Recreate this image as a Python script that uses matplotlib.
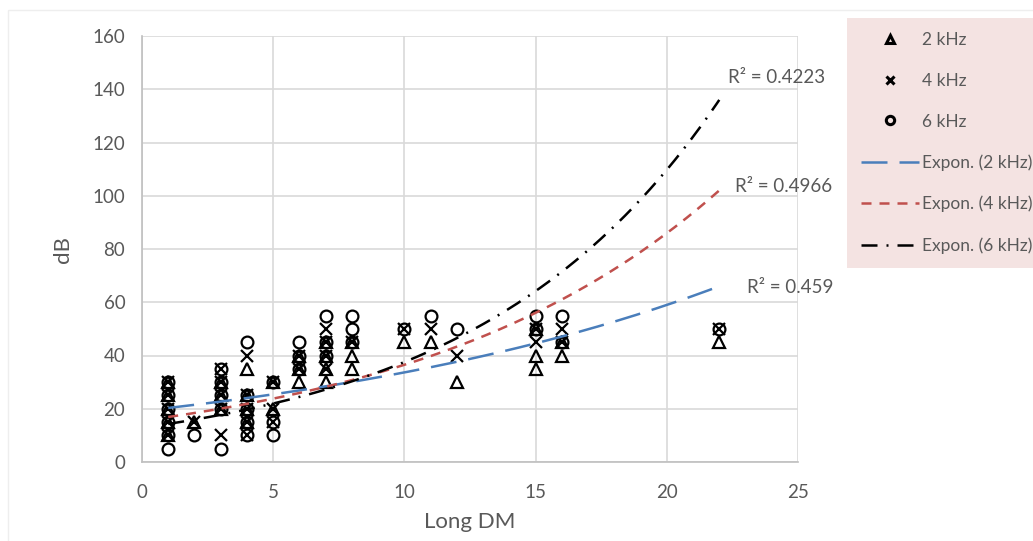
import numpy as np
import matplotlib.pyplot as plt
from matplotlib.lines import Line2D
from matplotlib.patches import Rectangle

# Scatter data (Long DM vs dB)
x_2k = [1, 1, 1, 1, 1, 2, 3, 3, 3, 4, 4, 4, 4, 5, 5, 6, 6, 6, 7, 7, 7, 7,
        8, 8, 8, 10, 11, 12, 15, 15, 15, 16, 16, 22]
y_2k = [10, 15, 20, 25, 30, 15, 20, 25, 30, 35, 25, 20, 15, 30, 20, 30, 35, 40, 30, 35, 40, 45,
        35, 40, 45, 45, 45, 30, 35, 40, 50, 40, 45, 45]

x_4k = [1, 1, 1, 1, 1, 2, 3, 3, 3, 3, 3, 4, 4, 4, 4, 4, 5, 5, 5, 6, 6, 7, 7, 7, 7,
        8, 10, 11, 12, 15, 15, 16, 16, 22]
y_4k = [10, 15, 20, 25, 30, 15, 10, 20, 25, 30, 35, 40, 25, 20, 15, 10, 30, 20, 15, 35, 40, 35, 40, 45, 50,
        45, 50, 50, 40, 45, 50, 45, 50, 50]

x_6k = [1, 1, 1, 1, 1, 1, 2, 3, 3, 3, 3, 3, 4, 4, 4, 4, 4, 5, 5, 5, 6, 6, 6, 7, 7, 7,
        8, 8, 8, 10, 11, 12, 15, 15, 16, 16, 22]
y_6k = [5, 10, 15, 20, 25, 30, 10, 5, 20, 25, 30, 35, 45, 25, 20, 15, 10, 30, 15, 10, 35, 40, 45, 40, 45, 55,
        45, 50, 55, 50, 55, 50, 50, 55, 45, 55, 50]

# Exponential trendlines: value at x=1 and x=22
trend_names = ['Expon. (2 kHz)', 'Expon. (4 kHz)', 'Expon. (6 kHz)']
trend_start = [20.3, 16.9, 14.3]
trend_end = [66, 102, 136]
r2_labels = ['R² = 0.459', 'R² = 0.4966', 'R² = 0.4223']
r2_pos = [(23.05, 65.5), (22.6, 103.5), (22.35, 144.5)]

plt.rcParams['font.family'] = ['Lato', 'DejaVu Sans']
grey = '#595959'

fig = plt.figure(figsize=(10.33, 5.41), dpi=100)
# faint chart-area border like the Excel export
fig.patches.append(Rectangle((8 / 1033, -0.01), 1.0, 1 - 10 / 541 + 0.01, transform=fig.transFigure,
                             fill=False, edgecolor='#eeeeee', linewidth=1))
ax = fig.add_axes([142 / 1033, 1 - 462 / 541, (798 - 142) / 1033, (462 - 36) / 541])

mk = dict(linestyle='none', markerfacecolor='none', markeredgecolor='black',
          markersize=8.5, markeredgewidth=1.6, zorder=3)
ax.plot(x_2k, y_2k, marker='^', **mk)
ax.plot(x_4k, y_4k, marker='x', **mk)
ax.plot(x_6k, y_6k, marker='o', **mk)

# Trendlines
styles = [
    dict(color='#4a7ebb', linestyle=(0, (10.4, 4.8))),
    dict(color='#c0504d', linestyle=(0, (4.0, 3.2))),
    dict(color='black', linestyle=(0, (6.4, 3.6, 0.8, 3.6))),
]
xs = np.linspace(1, 22, 200)
for s, e, st in zip(trend_start, trend_end, styles):
    b = np.log(e / s) / 21
    a = s / np.exp(b)
    ax.plot(xs, a * np.exp(b * xs), linewidth=1.8, zorder=4, **st)

for lab, (px, py) in zip(r2_labels, r2_pos):
    ax.text(px, py, lab, fontsize=13.5, color=grey, ha='left', va='center', clip_on=False)

ax.set_xlim(0, 25)
ax.set_ylim(0, 160)
ax.set_xticks(range(0, 26, 5))
ax.set_yticks(range(0, 161, 20))
ax.grid(True, color='#d9d9d9', linewidth=1.2)
ax.set_axisbelow(True)
for side in ['top', 'right']:
    ax.spines[side].set_visible(False)
for side in ['left', 'bottom']:
    ax.spines[side].set_color('#bfbfbf')
    ax.spines[side].set_linewidth(1.2)
ax.tick_params(length=0, labelsize=13.5, labelcolor=grey)
ax.tick_params(axis='x', pad=16)
ax.tick_params(axis='y', pad=12)
ax.set_xlabel('Long DM', fontsize=16, color=grey, labelpad=8)
ax.set_ylabel('dB', fontsize=16, color=grey, labelpad=14)

# Legend
handles = [
    Line2D([], [], marker='^', linestyle='none', markerfacecolor='none',
           markeredgecolor='black', markersize=6, markeredgewidth=2.2),
    Line2D([], [], marker='x', linestyle='none', markeredgecolor='black',
           markersize=6, markeredgewidth=2.2),
    Line2D([], [], marker='o', linestyle='none', markerfacecolor='none',
           markeredgecolor='black', markersize=6, markeredgewidth=2.2),
]
for st in styles:
    handles.append(Line2D([], [], linewidth=1.8, **st))
labels = ['2 kHz', '4 kHz', '6 kHz'] + trend_names
leg = fig.legend(handles, labels, loc='upper left', bbox_to_anchor=(847 / 1033, 1 - 18 / 541),
                 fontsize=12.5, labelcolor=grey, frameon=True, fancybox=False,
                 handlelength=3.33, handletextpad=0.2, labelspacing=1.43,
                 borderpad=0.8, borderaxespad=0)
leg.get_frame().set_facecolor('#f2dcdb')
leg.get_frame().set_edgecolor('none')

fig.savefig('out.png', dpi=100)
